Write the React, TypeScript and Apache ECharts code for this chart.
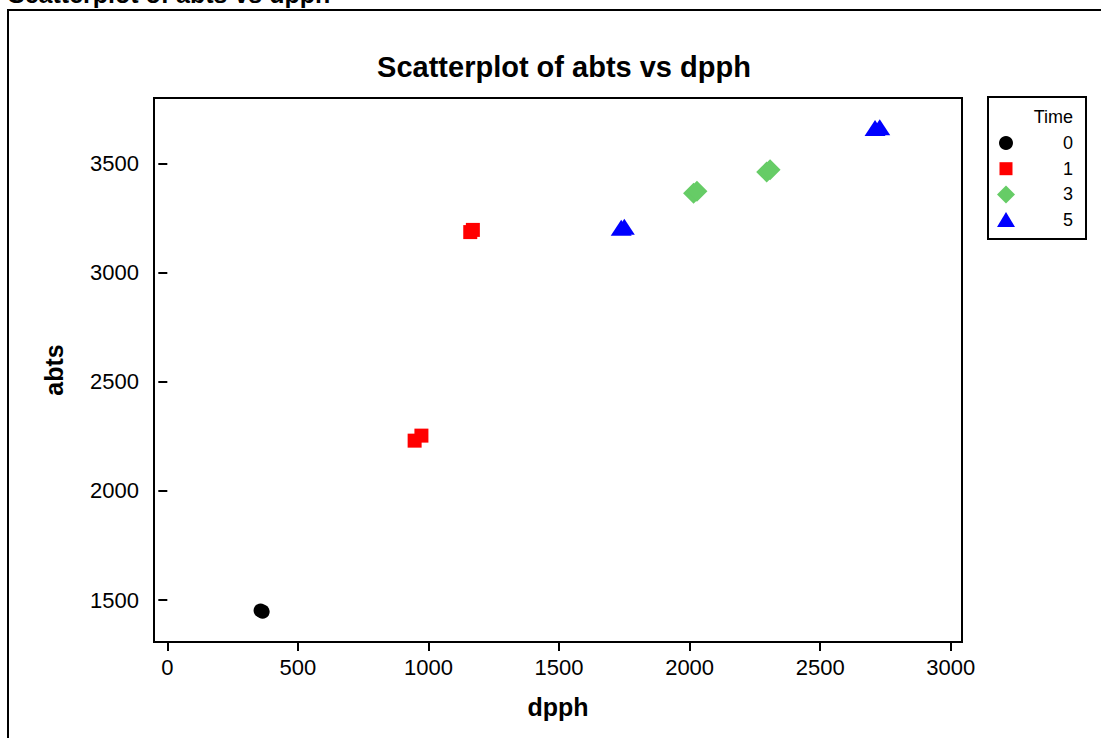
import React, { useEffect, useRef } from "react";
import * as echarts from "echarts";

const timeGroups = ["0", "1", "3", "5"];
const groupColors = ["#000000", "#ff0000", "#66cc66", "#0000ff"];
const groupSymbols = ["circle", "rect", "diamond", "triangle"];
const groupSymbolSizes: any[] = [[14, 14], [14, 14], [21, 21], [21, 16]];

const dpph0 = [357, 365];
const abts0 = [1452, 1447];
const dpph1 = [947, 973, 1160, 1170];
const abts1 = [2230, 2253, 3185, 3195];
const dpph3 = [2015, 2028, 2295, 2308];
const abts3 = [3363, 3372, 3460, 3470];
const dpph5 = [1738, 1750, 2710, 2728];
const abts5 = [3205, 3210, 3662, 3665];

const xTicks = [0, 500, 1000, 1500, 2000, 2500, 3000];
const yTicks = [1500, 2000, 2500, 3000, 3500];

const FONT = "'Liberation Sans', Arial, sans-serif";

export default function App() {
  const ref = useRef<HTMLDivElement>(null);
  useEffect(() => {
    if (!ref.current) return;
    const chart = echarts.init(ref.current, null, { renderer: "svg" });
    const xs = [dpph0, dpph1, dpph3, dpph5];
    const ys = [abts0, abts1, abts3, abts5];
    const series = timeGroups.map((g, i) => ({
      name: g,
      type: "scatter",
      symbol: groupSymbols[i],
      symbolSize: groupSymbolSizes[i],
      itemStyle: { color: groupColors[i], opacity: 1 },
      data: xs[i].map((x, j) => [x, ys[i][j]]),
    }));

    const legendX = 1006;
    const legendLabelX = 1073;
    const legendTop = 143;
    const legendStep = 25.7;
    const legendItems: any[] = [];
    timeGroups.forEach((g, i) => {
      const cy = legendTop + i * legendStep;
      let shape: any;
      if (groupSymbols[i] === "circle") {
        shape = { type: "circle", shape: { cx: legendX, cy, r: 7 }, style: { fill: groupColors[i] } };
      } else if (groupSymbols[i] === "rect") {
        shape = { type: "rect", shape: { x: legendX - 6.5, y: cy - 6.5, width: 13, height: 13 }, style: { fill: groupColors[i] } };
      } else if (groupSymbols[i] === "diamond") {
        shape = { type: "polygon", shape: { points: [[legendX, cy - 9], [legendX + 9, cy], [legendX, cy + 9], [legendX - 9, cy]] }, style: { fill: groupColors[i] } };
      } else {
        shape = { type: "polygon", shape: { points: [[legendX, cy - 8], [legendX + 9, cy + 7], [legendX - 9, cy + 7]] }, style: { fill: groupColors[i] } };
      }
      legendItems.push(shape);
      legendItems.push({
        type: "text",
        x: legendLabelX,
        y: cy,
        style: { text: g, fill: "#000", font: `18px ${FONT}`, textAlign: "right", textVerticalAlign: "middle" },
      });
    });

    chart.setOption({
      animation: false,
      backgroundColor: "#ffffff",
      title: {
        text: "Scatterplot of abts vs dpph",
        left: 559,
        top: 47,
        textAlign: "center",
        textStyle: { fontFamily: FONT, fontWeight: "bold", fontSize: 29, color: "#000" },
      },
      grid: {
        left: 154,
        top: 98,
        width: 808,
        height: 544,
        show: true,
        borderColor: "#000",
        borderWidth: 2,
        backgroundColor: "transparent",
      },
      xAxis: {
        type: "value",
        min: -51,
        max: 3043,
        name: "dpph",
        nameLocation: "middle",
        nameGap: 52,
        nameTextStyle: { fontFamily: FONT, fontWeight: "bold", fontSize: 25, color: "#000" },
        axisLine: { show: false },
        axisTick: { show: true, inside: false, length: 9, lineStyle: { color: "#000", width: 2 }, customValues: xTicks },
        axisLabel: { fontFamily: FONT, fontSize: 22, color: "#000", margin: 14, customValues: xTicks, formatter: (v: number) => String(v) },
        splitLine: { show: false },
      },
      yAxis: {
        type: "value",
        min: 1308,
        max: 3799,
        name: "abts",
        nameLocation: "middle",
        nameGap: 88,
        nameRotate: 90,
        nameTextStyle: { fontFamily: FONT, fontWeight: "bold", fontSize: 25, color: "#000" },
        axisLine: { show: false },
        axisTick: { show: true, inside: false, length: 9, lineStyle: { color: "#000", width: 2 }, customValues: yTicks },
        axisLabel: { fontFamily: FONT, fontSize: 22, color: "#000", margin: 15, customValues: yTicks, formatter: (v: number) => String(v) },
        splitLine: { show: false },
      },
      graphic: [
        {
          type: "text",
          x: 8,
          y: 6,
          style: { text: "Scatterplot of abts vs dpph", fill: "#000", font: `bold 25px ${FONT}`, textVerticalAlign: "bottom" },
        },
        {
          type: "rect",
          shape: { x: 8, y: 10, width: 1110, height: 740 },
          style: { fill: "none", stroke: "#000", lineWidth: 2 },
          silent: true,
        },
        {
          type: "rect",
          shape: { x: 988, y: 97, width: 98, height: 142 },
          style: { fill: "#fff", stroke: "#000", lineWidth: 2 },
        },
        {
          type: "text",
          x: legendLabelX,
          y: 117,
          style: { text: "Time", fill: "#000", font: `18px ${FONT}`, textAlign: "right", textVerticalAlign: "middle" },
        },
        ...legendItems,
      ],
      series,
    });
    return () => chart.dispose();
  }, []);
  return <div ref={ref} style={{ position: "fixed", left: 0, top: 0, width: 1101, height: 738 }} />;
}
